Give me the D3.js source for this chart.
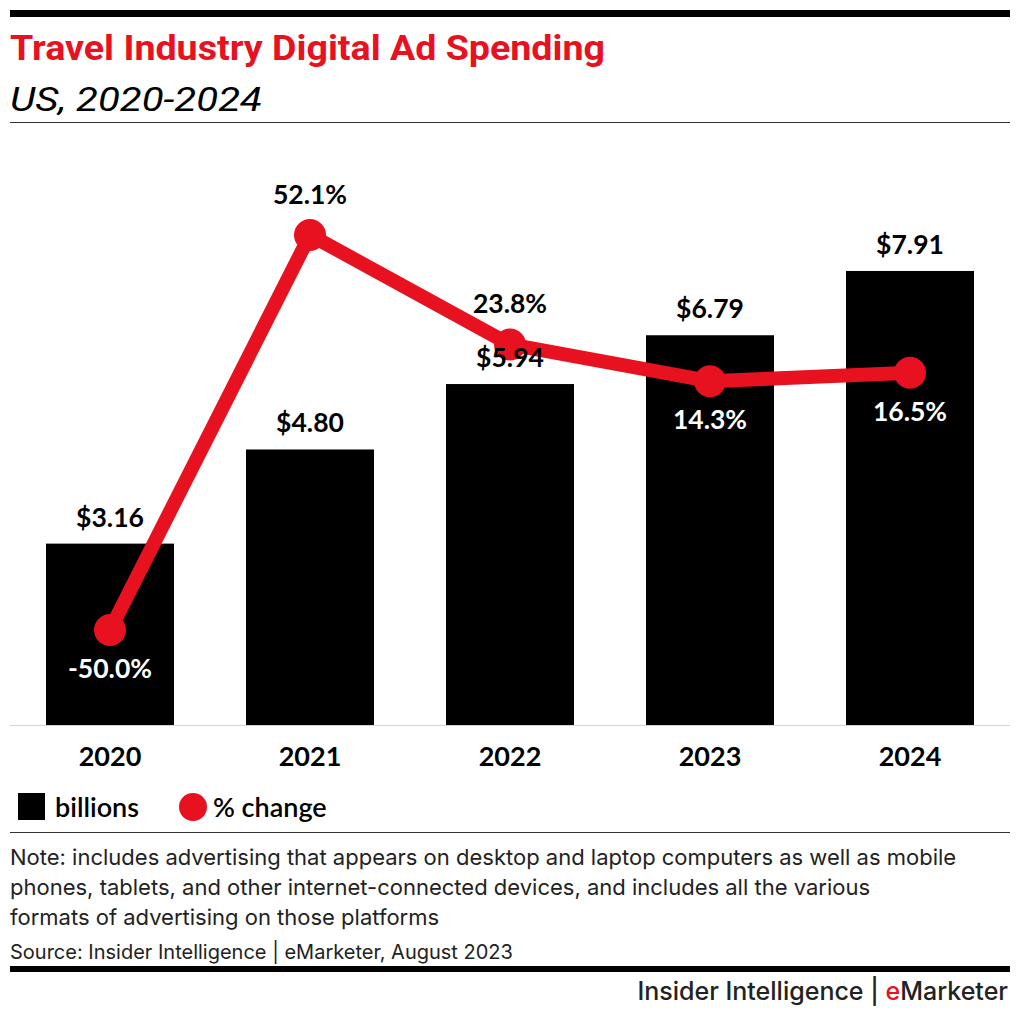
<!DOCTYPE html>
<html><head><meta charset="utf-8">
<script src="https://cdn.jsdelivr.net/npm/d3@7"></script>
<style>body{margin:0;background:#fff}svg{display:block}</style>
</head><body>
<script>
const years = ["2020","2021","2022","2023","2024"];
const spending = [3.16, 4.80, 5.94, 6.79, 7.91];
const spendingLabels = ["$3.16","$4.80","$5.94","$6.79","$7.91"];
const pctChange = [-50.0, 52.1, 23.8, 14.3, 16.5];
const pctLabels = ["-50.0%","52.1%","23.8%","14.3%","16.5%"];
const pctLabelAbove = [false, true, true, false, false];

const W = 1020, H = 1016;
const RED = "#e8111f";
const svg = d3.select("body").append("svg").attr("width", W).attr("height", H);

// header
svg.append("rect").attr("x",10).attr("y",10).attr("width",1000).attr("height",7).attr("fill","#000");
svg.append("text").attr("x",10).attr("y",60).text("Travel Industry Digital Ad Spending")
  .attr("font-family","Roboto").attr("font-weight",700).attr("font-size",35)
  .attr("textLength",595).attr("lengthAdjust","spacingAndGlyphs").attr("fill",RED);
svg.append("text").attr("x",10).attr("y",111).text("US, 2020-2024")
  .attr("font-family","Roboto").attr("font-style","italic").attr("font-size",33)
  .attr("textLength",252).attr("lengthAdjust","spacingAndGlyphs").attr("fill","#000");
svg.append("rect").attr("x",10).attr("y",122).attr("width",1000).attr("height",1).attr("fill","#333");

// scales
const x = d3.scaleBand().domain(years).range([10,1010]).paddingInner(0.36).paddingOuter(0.18);
const y = d3.scaleLinear().domain([0,10]).range([725, 151]);
const y2 = d3.scaleLinear().domain([-50, 52.1]).range([630, 235]);

// bars
svg.append("g").selectAll("rect").data(years).join("rect")
  .attr("x", d => x(d)).attr("width", x.bandwidth())
  .attr("y", (d,i) => y(spending[i])).attr("height", (d,i) => y(0) - y(spending[i]))
  .attr("fill","#000");

// baseline
svg.append("rect").attr("x",10).attr("y",725).attr("width",1000).attr("height",1).attr("fill","#c9d7ee");

// axis labels
const xAxis = d3.axisBottom(x).tickSize(0).tickPadding(0);
const ax = svg.append("g").attr("transform","translate(0,766)").call(xAxis);
ax.select(".domain").remove();
ax.selectAll("text").attr("font-family","Lato").attr("font-weight",700).attr("font-size",27).attr("fill","#000").attr("dy","0");

// line
const cx = d => x(d) + x.bandwidth()/2;
const line = d3.line().x((d,i) => cx(years[i])).y(d => y2(d));
svg.append("path").datum(pctChange).attr("d", line).attr("fill","none")
  .attr("stroke",RED).attr("stroke-width",14).attr("stroke-linejoin","round");
svg.append("g").selectAll("circle").data(pctChange).join("circle")
  .attr("cx",(d,i)=>cx(years[i])).attr("cy",d=>y2(d)).attr("r",16).attr("fill",RED);

// bar value labels
svg.append("g").selectAll("text").data(spending).join("text")
  .attr("x",(d,i)=>cx(years[i])).attr("y",d=>y(d)-17)
  .attr("text-anchor","middle").text((d,i)=>spendingLabels[i])
  .attr("font-family","Lato").attr("font-weight",700).attr("font-size",26.5).attr("fill","#000");

// pct labels
svg.append("g").selectAll("text").data(pctChange).join("text")
  .attr("x",(d,i)=>cx(years[i])).attr("y",(d,i)=> pctLabelAbove[i] ? y2(d)-31 : y2(d)+48)
  .attr("text-anchor","middle").text((d,i)=>pctLabels[i])
  .attr("font-family","Lato").attr("font-weight",700).attr("font-size",26.5)
  .attr("fill",(d,i)=> pctLabelAbove[i] ? "#000" : "#fff");

// legend
svg.append("rect").attr("x",18).attr("y",793).attr("width",27).attr("height",27).attr("fill","#000");
svg.append("text").attr("x",55).attr("y",817).text("billions")
  .attr("font-family","Lato").attr("font-weight",600).attr("font-size",27).attr("fill","#000");
svg.append("circle").attr("cx",193).attr("cy",807).attr("r",14).attr("fill",RED);
svg.append("text").attr("x",213).attr("y",817).text("% change")
  .attr("font-family","Lato").attr("font-weight",600).attr("font-size",27).attr("fill","#000");

svg.append("rect").attr("x",10).attr("y",832).attr("width",1000).attr("height",1).attr("fill","#333");

// note
const noteLines = [
  "Note: includes advertising that appears on desktop and laptop computers as well as mobile",
  "phones, tablets, and other internet-connected devices, and includes all the various",
  "formats of advertising on those platforms"
];
svg.append("g").selectAll("text").data(noteLines).join("text")
  .attr("x",10).attr("y",(d,i)=>865+i*30).text(d=>d)
  .attr("font-family","Inter").attr("font-size",22).attr("fill","#222");
svg.append("text").attr("x",10).attr("y",959).text("Source: Insider Intelligence | eMarketer, August 2023")
  .attr("font-family","Inter").attr("font-size",20).attr("fill","#222");

svg.append("rect").attr("x",10).attr("y",966).attr("width",1000).attr("height",6).attr("fill","#000");

const ft = svg.append("text").attr("x",1008).attr("y",1000).attr("text-anchor","end")
  .attr("font-family","Inter").attr("font-weight",500).attr("font-size",25).attr("fill","#222");
ft.append("tspan").text("Insider Intelligence | ");
ft.append("tspan").text("e").attr("fill",RED);
ft.append("tspan").text("Marketer");
</script>
</body></html>
